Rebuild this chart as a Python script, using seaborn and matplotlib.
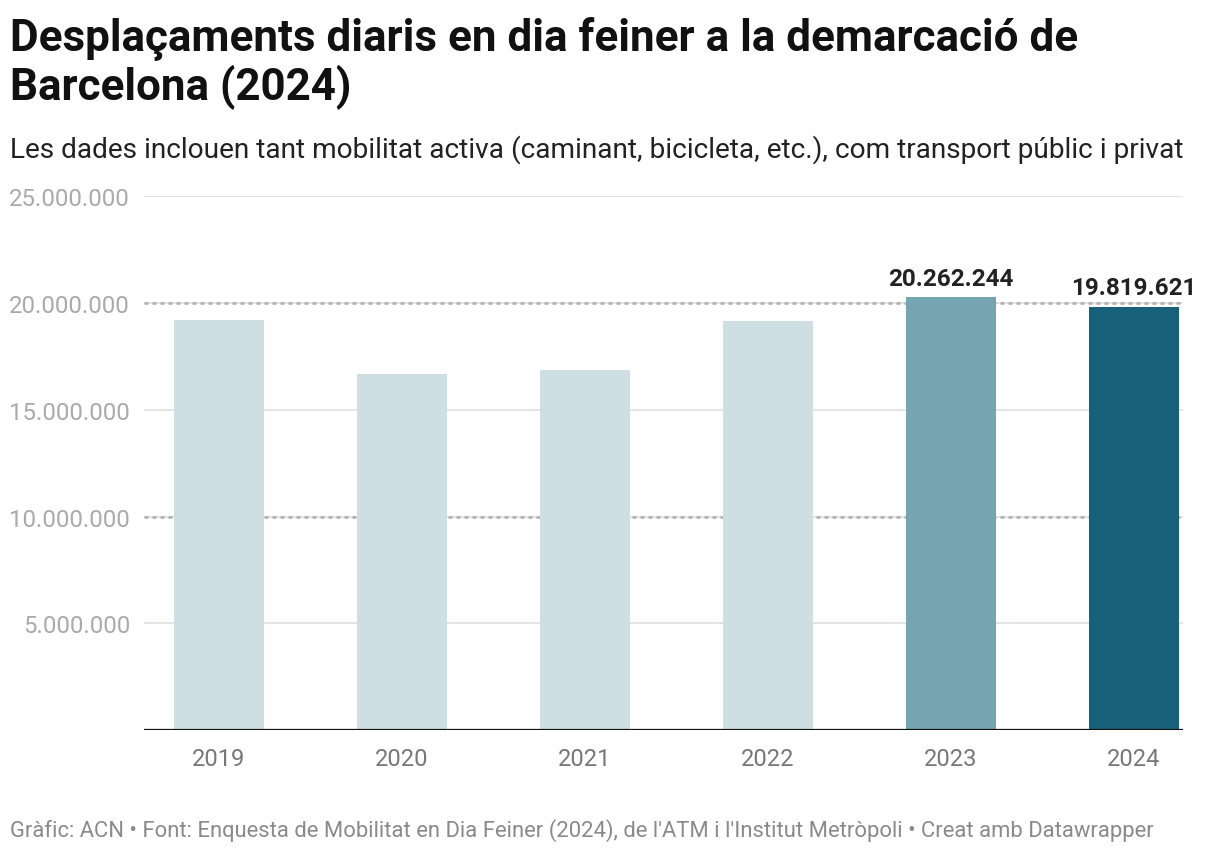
import numpy as np
import pandas as pd
import matplotlib.pyplot as plt
import seaborn as sns

years = ["2019", "2020", "2021", "2022", "2023", "2024"]
trips = [19190000, 16670000, 16850000, 19150000, 20262244, 19819621]
bar_colors = ["#cddfe3", "#cddfe3", "#cddfe3", "#cddfe3", "#74a5b0", "#17607a"]
labelled = {"2023": "20.262.244", "2024": "19.819.621"}

y_ticks = [5000000, 10000000, 15000000, 20000000, 25000000]
dotted_ticks = [10000000, 20000000]


def fmt(v):
    return f"{v:,.0f}".replace(",", ".")


sns.set_theme(style="white")
plt.rcParams["font.family"] = ["Roboto", "DejaVu Sans"]

df = pd.DataFrame({"year": years, "trips": trips})

fig = plt.figure(figsize=(12.2, 8.54), dpi=100)
ax = fig.add_axes([0.118, 0.144, 0.852, 0.625])

# gridlines first so bars sit on top
for t in y_ticks:
    ax.axhline(t, color="#e2e2e2", lw=1.3, zorder=0)
    if t in dotted_ticks:
        ax.axhline(t, color="#adadad", lw=1.8, ls=(0, (1.6, 1.6)), zorder=0.5)

sns.barplot(data=df, x="year", y="trips", hue="year", palette=bar_colors,
            legend=False, width=0.49, saturation=1, linewidth=0, ax=ax, zorder=2)

for i, (yr, v) in enumerate(zip(years, trips)):
    if yr in labelled:
        ax.text(i, v + 600000, labelled[yr], ha="center", va="baseline",
                fontsize=17.5, fontweight="bold", color="#222222")

ax.axhline(0, color="#111111", lw=1.6, zorder=3)
ax.set_ylim(0, 25000000)
ax.set_xlim(-0.41, 5.27)
ax.set_yticks(y_ticks)
ax.set_yticklabels([fmt(t) for t in y_ticks], fontsize=17.3, color="#aaaaaa")
ax.tick_params(axis="y", length=0, pad=10)
ax.tick_params(axis="x", length=0, pad=12, labelsize=17, labelcolor="#777777")
ax.set_xlabel("")
ax.set_ylabel("")
sns.despine(ax=ax, left=True, bottom=True, top=True, right=True)

fig.text(0.008, 0.980, "Desplaçaments diaris en dia feiner a la demarcació de\nBarcelona (2024)",
         fontsize=31.7, fontweight="bold", color="#111111", va="top", linespacing=1.1)
fig.text(0.008, 0.816, "Les dades inclouen tant mobilitat activa (caminant, bicicleta, etc.), com transport públic i privat",
         fontsize=20.2, color="#222222", va="baseline")
fig.text(0.008, 0.020,
         "Gràfic: ACN • Font: Enquesta de Mobilitat en Dia Feiner (2024), de l'ATM i l'Institut Metròpoli • Creat amb Datawrapper",
         fontsize=15.8, color="#8a8a8a", va="baseline")

fig.savefig("out.png", dpi=100, facecolor="white")
